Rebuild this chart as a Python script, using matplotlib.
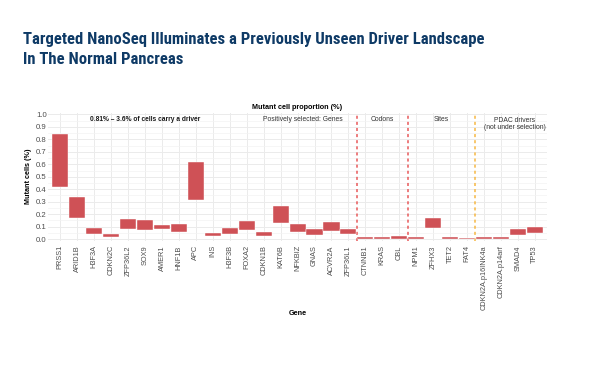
import matplotlib
matplotlib.use("Agg")
import matplotlib.pyplot as plt
import numpy as np

# -------- data --------
genes = ["PRSS1", "ARID1B", "H3F3A", "CDKN2C", "ZFP36L2", "SOX9", "AMER1", "HNF1B",
         "APC", "INS", "H3F3B", "FOXA2", "CDKN1B", "KAT6B", "NFKBIZ", "GNAS",
         "ACVR2A", "ZFP36L1", "CTNNB1", "KRAS", "CBL", "NPM1", "ZFHX3", "TET2",
         "FAT4", "CDKN2A.p16INK4a", "CDKN2A.p14arf", "SMAD4", "TP53"]
low = [0.417, 0.166, 0.043, 0.016, 0.078, 0.072, 0.078, 0.056,
       0.31, 0.024, 0.04, 0.072, 0.027, 0.131, 0.056, 0.037,
       0.067, 0.04, 0.005, 0.005, 0.005, 0.003, 0.086, 0.002,
       0.0, 0.003, 0.003, 0.037, 0.048]
high = [0.84, 0.334, 0.086, 0.04, 0.16, 0.152, 0.11, 0.12,
        0.62, 0.053, 0.086, 0.147, 0.061, 0.265, 0.118, 0.08,
        0.134, 0.083, 0.021, 0.021, 0.024, 0.016, 0.171, 0.014,
        0.009, 0.019, 0.016, 0.08, 0.1]

sections = ["Positively selected: Genes", "Codons", "Sites",
            "PDAC drivers\n(not under selection)"]
section_x = [14.3, 19.0, 22.5, 26.8]
dividers = [17.5, 20.5, 24.5]
divider_colors = ["#e8595a", "#e8595a", "#f6b844"]

title_lines = ["Targeted NanoSeq Illuminates a Previously Unseen Driver Landscape",
               "In The Normal Pancreas"]
title_color = "#0e3a66"
bar_color = "#cf5156"

plt.rcParams["font.family"] = ["Liberation Sans", "DejaVu Sans"]

fig = plt.figure(figsize=(6, 3.65), dpi=100)

# -------- title --------
for line, yb in zip(title_lines, [44, 63.5]):
    fig.text(23 / 600, 1 - yb / 365, line, family="Roboto Condensed",
             weight="bold", fontsize=12, color=title_color,
             va="baseline", ha="left")

ax = fig.add_axes([48 / 600, 1 - 241 / 365, (547 - 48) / 600, (241 - 112.5) / 365])

# floating range bars
x = np.arange(len(genes))
h = np.array(high) - np.array(low)
ax.bar(x, h, bottom=low, width=0.95, color=bar_color, edgecolor="white",
       linewidth=0.3, zorder=3)

for d, c in zip(dividers, divider_colors):
    ax.axvline(d, color=c, linestyle=(0, (2, 2)), linewidth=1.1, zorder=2)

ax.set_xlim(-0.73, 28.72)
ax.set_ylim(-0.015, 1.015)
ax.set_xticks(x)
ax.set_xticklabels(genes, rotation=90, fontsize=5.3, color="#4d4d4d")
ax.set_yticks(np.arange(0, 1.01, 0.1))
ax.set_yticklabels([f"{v:.1f}" for v in np.arange(0, 1.01, 0.1)],
                   fontsize=5.6, color="#4d4d4d")
ax.set_yticks(np.arange(0.05, 1.0, 0.1), minor=True)
ax.tick_params(axis="x", which="both", length=0, pad=3)
ax.tick_params(axis="y", which="both", length=0, pad=1)
ax.grid(True, which="major", color="#ebebeb", linewidth=0.7, zorder=0)
ax.grid(True, which="minor", axis="y", color="#f3f3f3", linewidth=0.5, zorder=0)
for s in ax.spines.values():
    s.set_visible(False)

ax.set_ylabel("Mutant cells (%)", fontsize=5.2, weight="bold", labelpad=3)
ax.set_xlabel("Gene", fontsize=5.2, weight="bold", labelpad=0)
ax.set_title("Mutant cell proportion (%)", fontsize=5.2, weight="bold", pad=2.5)

ax.text(5.0, 0.955, "0.81% – 3.6% of cells carry a driver", fontsize=4.8,
        weight="bold", ha="center", va="center", color="#1a1a1a")
for lbl, sx in zip(sections, section_x):
    ax.text(sx, 0.955 if "\n" not in lbl else 0.922, lbl, fontsize=4.9,
            ha="center", va="center", color="#333333", linespacing=1.0)

fig.savefig("out.png", dpi=100, facecolor="white")
